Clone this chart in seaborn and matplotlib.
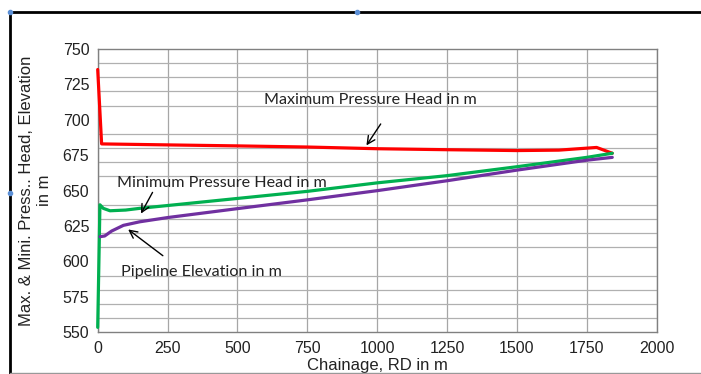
import matplotlib
matplotlib.use("Agg")
import matplotlib.pyplot as plt
import seaborn as sns
import numpy as np
import pandas as pd
from matplotlib.lines import Line2D

# ---- data ----
max_x = [0, 14, 250, 500, 750, 1000, 1250, 1500, 1650, 1785, 1841]
max_y = [735.5, 683.0, 682.3, 681.6, 680.8, 679.6, 678.9, 678.3, 678.6, 680.5, 676.4]

min_x = [0, 8, 20, 44, 100, 150, 250, 500, 750, 1000, 1250, 1500, 1750, 1841]
min_y = [553.5, 640.0, 637.5, 635.8, 636.3, 637.5, 639.5, 644.5, 649.5, 655.5, 660.6, 666.9, 673.5, 676.4]

pipe_x = [8, 25, 50, 92, 150, 250, 500, 750, 1000, 1250, 1500, 1750, 1841]
pipe_y = [617.5, 618.0, 621.5, 625.5, 628.0, 631.0, 637.3, 643.5, 650.0, 657.0, 664.5, 671.5, 673.5]

x_ticks = [0, 250, 500, 750, 1000, 1250, 1500, 1750, 2000]
y_ticks = [550, 575, 600, 625, 650, 675, 700, 725, 750]

sns.set_style("white")
plt.rcParams['font.family'] = ['Liberation Sans', 'DejaVu Sans']

fig = plt.figure(figsize=(7.01, 3.74), dpi=100)
ax = fig.add_axes([97.7 / 701, 1 - 332.3 / 374, (656.7 - 97.7) / 701, (332.3 - 49) / 374])

lw = 2.3
sns.lineplot(x=max_x, y=max_y, color="#FF0000", lw=lw, sort=False, estimator=None, ax=ax)
sns.lineplot(x=min_x, y=min_y, color="#00B050", lw=lw, sort=False, estimator=None, ax=ax)
sns.lineplot(x=pipe_x, y=pipe_y, color="#7030A0", lw=lw, sort=False, estimator=None, ax=ax)
for ln in ax.get_lines():
    ln.set_clip_on(False)
    ln.set_zorder(3)

ax.set_xlim(0, 2000)
ax.set_ylim(550, 750)
ax.set_xticks(x_ticks)
ax.set_yticks(y_ticks)
ax.set_yticks(np.arange(550, 751, 10), minor=True)
ax.tick_params(axis='both', which='both', length=0, labelsize=11.5, colors='#222222', pad=6)
ax.grid(False)
ax.grid(True, axis='x', which='major', color='#a6a6a6', lw=0.9)
ax.grid(True, axis='y', which='minor', color='#b0b0b0', lw=0.9)
ax.set_axisbelow(True)
for s in ax.spines.values():
    s.set_color('#808080')
    s.set_linewidth(1.0)
    s.set_zorder(2)

ax.set_xlabel("Chainage, RD in m", fontsize=12, labelpad=2, color='#222222')
ax.set_ylabel("Max. & Mini. Press.. Head, Elevation\nin m", fontsize=12, labelpad=8,
              color='#222222', linespacing=1.25)

afont = dict(fontsize=11.6, family=['Lato', 'DejaVu Sans'], color='#222222')
arrow = dict(arrowstyle='->', color='black', lw=1.0, mutation_scale=14)
ax.annotate("", xy=(956, 680.3), xytext=(1018, 698.7), arrowprops=arrow)
ax.text(594, 714, "Maximum Pressure Head in m", ha='left', va='center', **afont)
ax.annotate("", xy=(150, 632.1), xytext=(201, 650.5), arrowprops=arrow)
ax.text(70, 655.5, "Minimum Pressure Head in m", ha='left', va='center', **afont)
ax.annotate("", xy=(101, 623.8), xytext=(241, 602.9), arrowprops=arrow)
ax.text(82, 592.5, "Pipeline Elevation in m", ha='left', va='center', **afont)

# outer frame of the screenshot
fig.add_artist(Line2D([10 / 701, 1], [1 - 12 / 374] * 2, color='black', lw=2.0, transform=fig.transFigure))
fig.add_artist(Line2D([10 / 701] * 2, [0, 1 - 12 / 374], color='black', lw=2.0, transform=fig.transFigure))
fig.add_artist(Line2D([10 / 701, 1], [1.5 / 374] * 2, color='#999999', lw=1.0, transform=fig.transFigure))
# selection handles
fig.add_artist(Line2D([10 / 701, 357 / 701, 10 / 701], [1 - 12 / 374, 1 - 12 / 374, 1 - 193 / 374],
                      ls='none', marker='o', ms=3, color='#5b8fd6', transform=fig.transFigure))

fig.savefig("out.png", dpi=100)
